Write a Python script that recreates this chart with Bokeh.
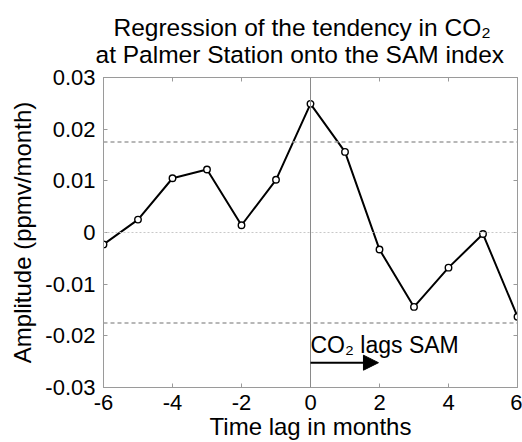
from bokeh.plotting import figure
from bokeh.models import (Range1d, FixedTicker, LinearAxis, Span, Arrow, NormalHead,
                          Label, ColumnDataSource, Title)
from bokeh.embed import file_html
from bokeh.resources import INLINE

# ---- data ----
lags = [-6, -5, -4, -3, -2, -1, 0, 1, 2, 3, 4, 5, 6]
amplitude = [-0.0023, 0.0025, 0.0105, 0.0122, 0.0014, 0.0102, 0.0249,
             0.0156, -0.0033, -0.0144, -0.0068, -0.0003, -0.0163]
significance = 0.0175
x_ticks = [-6, -4, -2, 0, 2, 4, 6]
x_tick_labels = ["-6", "-4", "-2", "0", "2", "4", "6"]
y_ticks = [-0.03, -0.02, -0.01, 0.0, 0.01, 0.02, 0.03]
y_tick_labels = ["-0.03", "-0.02", "-0.01", "0", "0.01", "0.02", "0.03"]
title_lines = ["Regression of the tendency in CO₂", "at Palmer Station onto the SAM index"]
arrow_start, arrow_end, arrow_y = 0, 1.97, -0.0252
note_text = "CO₂ lags SAM"
note_x, note_y = 0.0, -0.0217

FONT = "Liberation Sans"
GRAY = "#9a9a9a"

p = figure(width=522, height=442, output_backend="svg", toolbar_location=None,
           x_range=Range1d(-6, 6), y_range=Range1d(-0.03, 0.03),
           min_border_left=103, min_border_right=5, min_border_top=77, min_border_bottom=53)
p.title.visible = False

p.grid.visible = False
p.outline_line_color = GRAY
p.outline_line_width = 1
p.background_fill_color = "white"
p.border_fill_color = "white"

def style_axis(ax, labels=True):
    ax.axis_line_color = GRAY
    ax.major_tick_line_color = GRAY
    ax.major_tick_in = 4
    ax.major_tick_out = 0
    ax.minor_tick_line_color = None
    ax.major_label_text_font = FONT
    ax.major_label_text_font_size = "22px" if labels else "1px"
    ax.major_label_text_color = "black" if labels else None
    ax.axis_label_text_font = FONT
    ax.axis_label_text_font_size = "24px"
    ax.axis_label_text_font_style = "normal"
    ax.axis_label_text_color = "black"
    if not labels:
        ax.major_label_standoff = 0
        ax.axis_label_standoff = 0

xax = p.xaxis[0]
xax.ticker = FixedTicker(ticks=x_ticks)
xax.major_label_overrides = {t: s for t, s in zip(x_ticks, x_tick_labels)}
xax.axis_label = "Time lag in months"
style_axis(xax)
xax.major_label_standoff = 7
xax.axis_label_standoff = 0

yax = p.yaxis[0]
yax.ticker = FixedTicker(ticks=y_ticks)
yax.major_label_overrides = {t: s for t, s in zip(y_ticks, y_tick_labels)}
yax.axis_label = "Amplitude (ppmv/month)"
style_axis(yax)
yax.major_label_standoff = 8
yax.axis_label_standoff = 6

top_ax = LinearAxis(ticker=FixedTicker(ticks=x_ticks))
style_axis(top_ax, labels=False)
p.add_layout(top_ax, "above")
right_ax = LinearAxis(ticker=FixedTicker(ticks=y_ticks))
style_axis(right_ax, labels=False)
p.add_layout(right_ax, "right")

# title lines (second line added first so it sits nearer the frame)
p.add_layout(Title(text=title_lines[1], align="left", offset=-8, text_font=FONT,
                   text_font_size="24.5px", text_font_style="normal",
                   text_color="black", standoff=20), "above")
p.add_layout(Title(text=title_lines[0], align="left", offset=10, text_font=FONT,
                   text_font_size="24.5px", text_font_style="normal",
                   text_color="black", standoff=-24), "above")

# reference lines
p.add_layout(Span(location=0, dimension="width", line_color="#c8c8c8",
                  line_dash="2 2", line_width=1))
p.add_layout(Span(location=0, dimension="height", line_color="#8a8a8a", line_width=1))
for s in (significance, -significance):
    p.add_layout(Span(location=s, dimension="width", line_color="#a0a0a0",
                      line_dash="4 3", line_width=1.5))

src = ColumnDataSource(dict(x=lags, y=amplitude))
p.line("x", "y", source=src, line_color="black", line_width=2)
p.scatter("x", "y", source=src, size=6.5, marker="circle", line_color="black",
          fill_color="white", line_width=1.4)

p.add_layout(Arrow(x_start=arrow_start, y_start=arrow_y, x_end=arrow_end, y_end=arrow_y,
                   line_color="black", line_width=2,
                   end=NormalHead(size=15, fill_color="black", line_color="black")))
p.add_layout(Label(x=note_x, y=note_y, text=note_text, text_font=FONT,
                   text_font_size="23px", text_color="black", x_offset=0,
                   text_baseline="alphabetic"))

open("out.html", "w").write(file_html(p, INLINE))
